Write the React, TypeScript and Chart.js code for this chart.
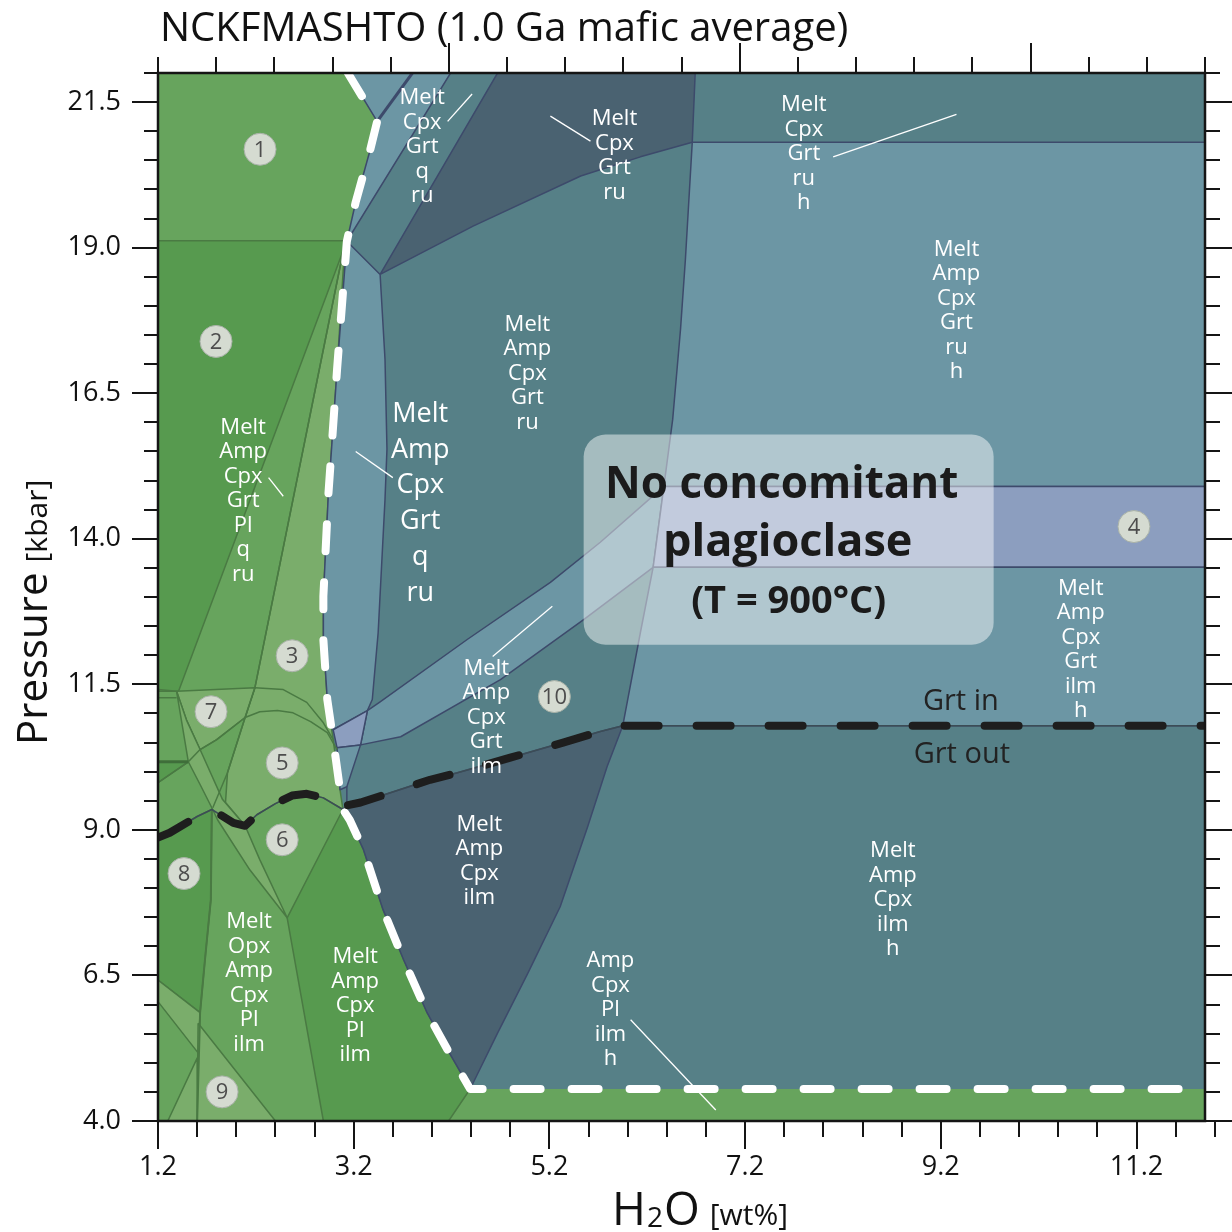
import React, { useEffect, useRef } from 'react';
import { Chart, registerables } from 'chart.js';

Chart.register(...registerables);

type Pt = [number, number];

const FONT = '"Open Sans", "Noto Sans", sans-serif';

// ---------- axes ----------
const H2O_MIN = 1.2;
const H2O_MAX = 11.9;
const P_MIN = 4.0;
const P_MAX = 22.0;
const H2O_LABEL_TICKS = [1.2, 3.2, 5.2, 7.2, 9.2, 11.2];
const H2O_MINOR_STEP = 0.4;
const P_LABEL_TICKS = [4.0, 6.5, 9.0, 11.5, 14.0, 16.5, 19.0, 21.5];
const P_MINOR_STEP = 0.5;
const TOP_MIN = 0;
const TOP_MAX = 18;
const TOP_MAJOR_EVERY = 5;

// ---------- colours ----------
const G1 = '#67a45d';
const G2 = '#579a4f';
const G3 = '#7aad6b';
const B1 = '#6c96a4';
const B2 = '#568087';
const B3 = '#4a6271';
const PU = '#8c9ebf';
const LINE_GREEN = '#4a7a43';
const LINE_BLUE = '#3d4a6b';

// ---------- boundaries [H2O wt%, P kbar] ----------
const SOLIDUS: Pt[] = [
  [3.14, 22.0], [3.44, 21.17], [3.37, 20.69], [3.22, 19.78], [3.13, 19.11], [3.03, 16.91],
  [2.94, 14.73], [2.89, 13.01], [2.89, 12.27], [2.93, 11.24], [2.99, 10.55], [3.06, 9.69],
  [3.09, 9.35], [3.16, 9.17], [3.30, 8.66], [3.50, 7.63], [3.71, 6.77], [3.95, 5.86],
  [4.16, 5.22], [4.39, 4.55], [11.9, 4.55],
];
const GRT_LINE: Pt[] = [
  [1.2, 8.87], [1.32, 8.95], [1.60, 9.23], [1.75, 9.35], [1.97, 9.12], [2.09, 9.07],
  [2.21, 9.26], [2.40, 9.45], [2.57, 9.59], [2.72, 9.62], [2.89, 9.55], [3.09, 9.35],
  [3.13, 9.42], [3.27, 9.47], [3.98, 9.86], [4.26, 9.98], [4.80, 10.24], [5.34, 10.50],
  [5.72, 10.69], [5.95, 10.79], [11.9, 10.79],
];

// ---------- phase fields ----------
const FIELD_ALL: Pt[] = [[1.2, 4.0], [11.9, 4.0], [11.9, 22.0], [1.2, 22.0]];
const FIELD_2: Pt[] = [[1.2, 19.12], [3.13, 19.12], [1.41, 11.38], [1.2, 11.38]];
const FIELD_3_5: Pt[] = [
  [3.11, 19.08], [3.03, 16.91], [2.94, 14.73], [2.89, 13.01], [2.89, 12.27], [2.93, 11.24],
  [2.99, 10.55], [3.06, 9.69], [3.09, 9.35], [2.89, 9.55], [2.72, 9.62], [2.57, 9.59],
  [2.40, 9.45], [2.21, 9.26], [2.09, 9.07], [1.89, 9.47], [1.91, 9.98], [2.09, 10.93], [2.19, 11.44],
];
const FIELD_7: Pt[] = [[1.39, 11.38], [2.19, 11.44], [2.09, 10.93], [1.80, 10.55], [1.63, 10.38], [1.49, 10.89]];
const FIELD_LENS: Pt[] = [
  [1.39, 11.38], [1.49, 10.89], [1.63, 10.38], [1.86, 9.52], [2.09, 9.07], [2.24, 8.49], [2.52, 7.49],
  [2.14, 8.31], [1.81, 9.17], [1.75, 9.38], [1.63, 9.78], [1.51, 10.17],
];
const FIELD_LEFT_TRI: Pt[] = [[1.2, 10.17], [1.51, 10.17], [1.2, 9.81]];
const FIELD_8: Pt[] = [[1.2, 8.87], [1.32, 8.95], [1.60, 9.23], [1.75, 9.35], [1.74, 7.80], [1.68, 6.77], [1.63, 5.86], [1.2, 6.42]];
const FIELD_LOW_STRIP: Pt[] = [[1.2, 6.42], [1.63, 5.86], [1.61, 5.17], [1.2, 6.05]];
const FIELD_9: Pt[] = [[1.61, 5.68], [2.40, 4.0], [1.60, 4.0]];
const FIELD_9B: Pt[] = [[1.30, 4.0], [1.60, 5.08], [1.60, 4.0]];
const FIELD_PL_ILM: Pt[] = [
  [3.09, 9.35], [3.16, 9.17], [3.30, 8.66], [3.50, 7.63], [3.71, 6.77], [3.95, 5.86], [4.16, 5.22],
  [4.39, 4.55], [4.17, 4.0], [2.89, 4.0], [2.52, 7.49],
];
const FIELD_CPX_GRT_Q_RU: Pt[] = [[3.14, 22.0], [4.19, 22.0], [3.13, 19.11], [3.22, 19.78], [3.37, 20.69], [3.44, 21.17]];
const FIELD_CPX_GRT_RU: Pt[] = [[4.67, 22.0], [6.69, 22.0], [6.66, 20.81], [6.13, 20.56], [5.52, 20.23], [4.42, 19.37], [3.47, 18.54]];
const FIELD_AMP_GRT_Q_RU: Pt[] = [
  [3.13, 19.11], [3.47, 18.54], [3.52, 17.08], [3.54, 15.54], [3.52, 14.68], [3.45, 12.39],
  [3.39, 11.24], [3.34, 11.05], [2.99, 10.72], [2.93, 11.24], [2.89, 12.27], [2.89, 13.01],
  [2.94, 14.73], [3.03, 16.91],
];
const FIELD_BAND: Pt[] = [
  [3.34, 11.05], [3.47, 11.20], [4.36, 12.27], [5.21, 13.25], [5.72, 13.94], [6.37, 14.90],
  [6.26, 13.51], [5.55, 12.61], [4.70, 11.58], [3.68, 10.60], [3.27, 10.46],
];
const FIELD_SMALL_PURPLE: Pt[] = [[2.99, 10.72], [3.34, 11.05], [3.27, 10.46], [3.03, 10.41]];
const FIELD_SLIVER: Pt[] = [[3.03, 10.41], [3.27, 10.46], [3.13, 9.74], [3.06, 9.69]];
const FIELD_RU_H: Pt[] = [[6.66, 20.81], [6.59, 18.80], [6.54, 17.60], [6.46, 16.05], [6.37, 14.90], [11.9, 14.90], [11.9, 20.81]];
const FIELD_4: Pt[] = [[6.37, 14.90], [6.26, 13.51], [11.9, 13.51], [11.9, 14.90]];
const FIELD_GRT_ILM_H: Pt[] = [[6.26, 13.51], [6.13, 12.39], [5.95, 10.79], [11.9, 10.79], [11.9, 13.51]];
const FIELD_AMP_CPX_ILM: Pt[] = [
  [3.09, 9.35], [3.13, 9.42], [3.27, 9.47], [3.98, 9.86], [4.26, 9.98], [4.80, 10.24], [5.34, 10.50],
  [5.72, 10.69], [5.95, 10.79], [5.79, 10.09], [5.59, 9.05], [5.31, 7.68], [4.98, 6.54], [4.67, 5.51],
  [4.39, 4.55], [4.16, 5.22], [3.95, 5.86], [3.71, 6.77], [3.50, 7.63], [3.30, 8.66], [3.16, 9.17],
];

// ---------- extra boundary lines ----------
const LINE_B: Pt[] = [[3.11, 19.08], [2.19, 11.44], [2.09, 10.93], [1.91, 9.98], [1.76, 9.38]];
const CURVE_3_BOTTOM: Pt[] = [[2.19, 11.44], [2.48, 11.41], [2.72, 11.19], [2.89, 10.84], [2.99, 10.55]];
const ARC_5_TOP: Pt[] = [
  [3.03, 10.38], [2.93, 10.67], [2.76, 10.86], [2.58, 11.01], [2.42, 11.05], [2.24, 11.03],
  [2.09, 10.93], [1.80, 10.55], [1.63, 10.38], [1.51, 10.17], [1.2, 9.81],
];
const SHORT_LINE_1: Pt[] = [[1.2, 11.41], [1.39, 11.38]];
const SHORT_LINE_2: Pt[] = [[1.2, 11.27], [1.39, 11.27]];
const SHORT_LINE_3: Pt[] = [[1.2, 10.17], [1.51, 10.17]];
const VERTICAL_8: Pt[] = [[1.75, 9.35], [1.74, 7.80], [1.68, 6.77], [1.63, 5.86], [1.60, 4.0]];
const DOUBLE_LINE: Pt[] = [[3.80, 22.0], [3.44, 21.17]];
const LEFT_BLUE_LOW: Pt[] = [[3.13, 9.74], [3.13, 9.42]];

// ---------- annotations ----------
const POINTERS: Pt[][] = [
  [[4.16, 21.17], [4.41, 21.64]],
  [[5.21, 21.26], [5.62, 20.83]],
  [[8.10, 20.56], [9.36, 21.29]],
  [[3.22, 15.50], [3.60, 15.05]],
  [[2.33, 15.05], [2.48, 14.73]],
  [[4.62, 11.98], [5.23, 12.84]],
  [[6.03, 5.74], [6.90, 4.19]],
];
const CIRCLE_X = [2.243, 1.793, 2.571, 11.174, 2.469, 2.469, 1.742, 1.466, 1.855, 5.251];
const CIRCLE_P = [20.69, 17.39, 11.99, 14.21, 10.15, 8.83, 11.03, 8.25, 4.50, 11.29];
const CIRCLE_NUM = ['1', '2', '3', '4', '5', '6', '7', '8', '9', '10'];

const REGION_LABELS = [
  { lines: ['Melt', 'Cpx', 'Grt', 'q', 'ru'], x: 3.90, p: 21.57, size: 22, gap: 24.5 },
  { lines: ['Melt', 'Cpx', 'Grt', 'ru'], x: 5.865, p: 21.21, size: 22, gap: 24.5 },
  { lines: ['Melt', 'Cpx', 'Grt', 'ru', 'h'], x: 7.80, p: 21.45, size: 22, gap: 24.5 },
  { lines: ['Melt', 'Amp', 'Cpx', 'Grt', 'ru', 'h'], x: 9.36, p: 18.97, size: 22, gap: 24.5 },
  { lines: ['Melt', 'Amp', 'Cpx', 'Grt', 'ru'], x: 4.975, p: 17.68, size: 22, gap: 24.5 },
  { lines: ['Melt', 'Amp', 'Cpx', 'Grt', 'q', 'ru'], x: 3.88, p: 16.14, size: 27, gap: 35.8 },
  { lines: ['Melt', 'Amp', 'Cpx', 'Grt', 'Pl', 'q', 'ru'], x: 2.07, p: 15.91, size: 22, gap: 24.5 },
  { lines: ['Melt', 'Amp', 'Cpx', 'Grt', 'ilm', 'h'], x: 10.63, p: 13.15, size: 22, gap: 24.5 },
  { lines: ['Melt', 'Amp', 'Cpx', 'Grt', 'ilm'], x: 4.555, p: 11.77, size: 22, gap: 24.5 },
  { lines: ['Melt', 'Amp', 'Cpx', 'ilm'], x: 4.484, p: 9.09, size: 22, gap: 24.5 },
  { lines: ['Melt', 'Amp', 'Cpx', 'ilm', 'h'], x: 8.71, p: 8.64, size: 22, gap: 24.5 },
  { lines: ['Amp', 'Cpx', 'Pl', 'ilm', 'h'], x: 5.824, p: 6.75, size: 22, gap: 24.5 },
  { lines: ['Melt', 'Opx', 'Amp', 'Cpx', 'Pl', 'ilm'], x: 2.131, p: 7.42, size: 22, gap: 24.5 },
  { lines: ['Melt', 'Amp', 'Cpx', 'Pl', 'ilm'], x: 3.215, p: 6.82, size: 22, gap: 24.5 },
];
const GRT_TEXT = [
  { text: 'Grt in', x: 9.405, p: 11.20 },
  { text: 'Grt out', x: 9.415, p: 10.29 },
];
const BOX_X = [5.55, 9.74];
const BOX_P = [12.18, 15.79];
const BOX_LINES = ['No concomitant', 'plagioclase', '(T = 900°C)'];

const TITLE = 'NCKFMASHTO (1.0 Ga mafic average)';

// ---------- helpers ----------
const toXY = (pts: Pt[]) => pts.map(([x, y]) => ({ x, y }));

function polygon(pts: Pt[], fill: string, border: string | null, bw = 1.5) {
  return {
    type: 'line',
    data: toXY([...pts, pts[0]]),
    fill: 'shape',
    backgroundColor: fill,
    borderColor: border ?? 'rgba(0,0,0,0)',
    borderWidth: border ? bw : 0.01,
    pointRadius: 0,
    tension: 0,
    borderJoinStyle: 'round',
  };
}
function polyline(pts: Pt[], color: string, width: number, dash: number[] = []) {
  return {
    type: 'line',
    data: toXY(pts),
    fill: false,
    borderColor: color,
    borderWidth: width,
    borderDash: dash,
    borderCapStyle: dash.length ? 'round' : 'butt',
    borderJoinStyle: 'round',
    pointRadius: 0,
    tension: 0,
  };
}

function stepTicks(min: number, max: number, step: number) {
  const out: number[] = [];
  const n = Math.round((max - min) / step);
  for (let i = 0; i <= n; i++) out.push(Math.round((min + i * step) * 1000) / 1000);
  return out;
}
const isIn = (v: number, arr: number[]) => arr.some((a) => Math.abs(a - v) < 1e-6);

const axesPlugin = {
  id: 'axesDecor',
  afterDatasetsDraw(chart: any) {
    const { ctx } = chart;
    const xs = chart.scales.x;
    const ys = chart.scales.y;
    ctx.save();
    // translucent box
    const bx0 = xs.getPixelForValue(BOX_X[0]);
    const bx1 = xs.getPixelForValue(BOX_X[1]);
    const by0 = ys.getPixelForValue(BOX_P[1]);
    const by1 = ys.getPixelForValue(BOX_P[0]);
    ctx.fillStyle = 'rgba(255,255,255,0.47)';
    ctx.beginPath();
    ctx.roundRect(bx0, by0, bx1 - bx0, by1 - by0, 22);
    ctx.fill();
    const bcx = (bx0 + bx1) / 2;
    ctx.fillStyle = '#1b1b1b';
    ctx.textAlign = 'center';
    ctx.textBaseline = 'alphabetic';
    ctx.font = `bold 44px ${FONT}`;
    ctx.fillText(BOX_LINES[0], bcx - 7, by0 + 63);
    ctx.font = `bold 45px ${FONT}`;
    ctx.fillText(BOX_LINES[1], bcx - 1, by0 + 121);
    ctx.font = `bold 38px ${FONT}`;
    ctx.fillText(BOX_LINES[2], bcx, by0 + 178);

    // region labels
    ctx.fillStyle = '#ffffff';
    ctx.textBaseline = 'middle';
    for (const L of REGION_LABELS) {
      ctx.font = `${L.size}px ${FONT}`;
      const cx = xs.getPixelForValue(L.x);
      const cy = ys.getPixelForValue(L.p);
      L.lines.forEach((t, i) => ctx.fillText(t, cx, cy + i * L.gap));
    }
    // circle numbers
    ctx.fillStyle = '#4d4d4d';
    ctx.font = `22px ${FONT}`;
    CIRCLE_NUM.forEach((n, i) => {
      ctx.fillText(n, xs.getPixelForValue(CIRCLE_X[i]), ys.getPixelForValue(CIRCLE_P[i]) + 1);
    });
    // Grt in / out
    ctx.fillStyle = '#222';
    ctx.font = `29px ${FONT}`;
    for (const g of GRT_TEXT) ctx.fillText(g.text, xs.getPixelForValue(g.x), ys.getPixelForValue(g.p));
    ctx.restore();
  },
  afterDraw(chart: any) {
    const { ctx, chartArea } = chart;
    const { left, right, top, bottom } = chartArea;
    const xs = chart.scales.x;
    const ys = chart.scales.y;
    const xt = chart.scales.xTop;
    ctx.save();
    ctx.strokeStyle = '#151515';
    ctx.lineWidth = 2;
    const seg = (x1: number, y1: number, x2: number, y2: number) => {
      ctx.beginPath();
      ctx.moveTo(x1, y1);
      ctx.lineTo(x2, y2);
      ctx.stroke();
    };
    for (const v of stepTicks(H2O_MIN, H2O_MAX, H2O_MINOR_STEP)) {
      const X = Math.round(xs.getPixelForValue(v));
      seg(X, bottom, X, bottom + (isIn(v, H2O_LABEL_TICKS) ? 28 : 16));
    }
    for (const v of stepTicks(P_MIN, P_MAX, P_MINOR_STEP)) {
      const Y = Math.round(ys.getPixelForValue(v));
      const major = isIn(v, P_LABEL_TICKS);
      seg(left - (major ? 26 : 14), Y, left, Y);
      seg(right, Y, right + (major ? 27 : 15), Y);
    }
    for (const v of stepTicks(TOP_MIN, TOP_MAX, 1)) {
      const X = Math.round(xt.getPixelForValue(v));
      seg(X, top, X, top - (v % TOP_MAJOR_EVERY === 0 && v > 0 ? 30 : 16));
    }
    ctx.lineWidth = 2.5;
    ctx.strokeRect(left, top, right - left, bottom - top);

    // title
    ctx.fillStyle = '#111';
    ctx.textAlign = 'left';
    ctx.textBaseline = 'alphabetic';
    ctx.font = `40px ${FONT}`;
    ctx.fillText(TITLE, 160, 41);

    // x title: H2O [wt%]
    let x = 612;
    const yb = 1225;
    ctx.font = `46px ${FONT}`;
    ctx.fillText('H', x, yb);
    x += ctx.measureText('H').width + 1;
    ctx.font = `28px ${FONT}`;
    ctx.fillText('2', x, yb + 2);
    x += ctx.measureText('2').width + 1;
    ctx.font = `46px ${FONT}`;
    ctx.fillText('O', x, yb);
    x += ctx.measureText('O').width + 10;
    ctx.font = `30px ${FONT}`;
    ctx.fillText('[wt%]', x, yb);

    // y title: Pressure [kbar]
    ctx.translate(47, 745);
    ctx.rotate(-Math.PI / 2);
    ctx.font = `42px ${FONT}`;
    ctx.fillText('Pressure', 0, 0);
    const w = ctx.measureText('Pressure').width;
    ctx.font = `30px ${FONT}`;
    ctx.fillText('[kbar]', w + 10, 0);
    ctx.restore();
  },
};

export default function App() {
  const ref = useRef<HTMLCanvasElement>(null);
  useEffect(() => {
    const datasets: any[] = [
      polygon(FIELD_ALL, B2, null),
      polygon([[1.2, 22.0], ...SOLIDUS, [11.9, 4.0], [1.2, 4.0]], G1, null),
      polygon(FIELD_2, G2, LINE_GREEN),
      polygon(FIELD_3_5, G3, LINE_GREEN),
      polygon(FIELD_7, G3, LINE_GREEN),
      polygon(FIELD_LENS, G3, LINE_GREEN),
      polygon(FIELD_LEFT_TRI, G2, LINE_GREEN),
      polygon(FIELD_8, G2, LINE_GREEN),
      polygon(FIELD_LOW_STRIP, G3, LINE_GREEN),
      polygon(FIELD_9, G3, LINE_GREEN),
      polygon(FIELD_9B, G3, LINE_GREEN),
      polygon(FIELD_PL_ILM, G2, LINE_GREEN),
      polygon(FIELD_CPX_GRT_Q_RU, B1, LINE_BLUE),
      polygon(FIELD_CPX_GRT_RU, B3, LINE_BLUE),
      polygon(FIELD_AMP_GRT_Q_RU, B1, LINE_BLUE),
      polygon(FIELD_BAND, B1, LINE_BLUE),
      polygon(FIELD_SMALL_PURPLE, PU, LINE_BLUE),
      polygon(FIELD_SLIVER, B1, LINE_BLUE),
      polygon(FIELD_RU_H, B1, LINE_BLUE),
      polygon(FIELD_4, PU, LINE_BLUE),
      polygon(FIELD_GRT_ILM_H, B1, LINE_BLUE),
      polygon(FIELD_AMP_CPX_ILM, B3, LINE_BLUE),
      polyline(LINE_B, LINE_GREEN, 1.5),
      polyline(CURVE_3_BOTTOM, LINE_GREEN, 1.5),
      polyline(ARC_5_TOP, LINE_GREEN, 1.5),
      polyline(SHORT_LINE_1, LINE_GREEN, 1.5),
      polyline(SHORT_LINE_2, LINE_GREEN, 1.5),
      polyline(SHORT_LINE_3, '#3f6e3a', 3),
      polyline(VERTICAL_8, LINE_GREEN, 2),
      polyline(DOUBLE_LINE, LINE_BLUE, 3),
      polyline(LEFT_BLUE_LOW, LINE_BLUE, 1.5),
      polyline(GRT_LINE, '#3c4d56', 1.5),
      ...POINTERS.map((p) => polyline(p, '#ffffff', 1.3)),
      polyline(SOLIDUS, '#ffffff', 8, [27, 31]),
      polyline(GRT_LINE, '#1e1e1e', 8, [34, 38]),
      {
        type: 'line',
        data: CIRCLE_X.map((x, i) => ({ x, y: CIRCLE_P[i] })),
        showLine: false,
        pointRadius: 16,
        pointBackgroundColor: '#d5dbd1',
        pointBorderColor: '#a9b2a8',
        pointBorderWidth: 1,
      },
    ];
    datasets.forEach((d, i) => (d.order = -i));

    const chart = new Chart(ref.current as HTMLCanvasElement, {
      type: 'line',
      data: { datasets },
      options: {
        responsive: false,
        animation: false,
        events: [],
        layout: { padding: 0 },
        plugins: { legend: { display: false }, tooltip: { enabled: false }, title: { display: false } },
        scales: {
          x: {
            type: 'linear',
            position: 'bottom',
            min: H2O_MIN,
            max: H2O_MAX,
            afterBuildTicks: (s: any) => {
              s.ticks = H2O_LABEL_TICKS.map((v) => ({ value: v }));
            },
            afterFit: (s: any) => {
              s.height = 111;
            },
            grid: { display: false, drawTicks: false },
            border: { display: false },
            ticks: {
              autoSkip: false,
              maxRotation: 0,
              padding: 30,
              color: '#111',
              font: { family: FONT, size: 27 },
              callback: (v: any) => Number(v).toFixed(1),
            },
          },
          y: {
            type: 'linear',
            position: 'left',
            min: P_MIN,
            max: P_MAX,
            afterBuildTicks: (s: any) => {
              s.ticks = P_LABEL_TICKS.map((v) => ({ value: v }));
            },
            afterFit: (s: any) => {
              s.width = 158;
            },
            grid: { display: false, drawTicks: false },
            border: { display: false },
            ticks: {
              autoSkip: false,
              padding: 37,
              color: '#111',
              font: { family: FONT, size: 27 },
              callback: (v: any) => Number(v).toFixed(1),
            },
          },
          xTop: {
            type: 'linear',
            position: 'top',
            min: TOP_MIN,
            max: TOP_MAX,
            afterFit: (s: any) => {
              s.height = 73;
            },
            grid: { display: false, drawTicks: false },
            border: { display: false },
            ticks: { display: false },
          },
          yRight: {
            type: 'linear',
            position: 'right',
            min: P_MIN,
            max: P_MAX,
            afterFit: (s: any) => {
              s.width = 27;
            },
            grid: { display: false, drawTicks: false },
            border: { display: false },
            ticks: { display: false },
          },
        },
      } as any,
      plugins: [axesPlugin],
    } as any);
    return () => chart.destroy();
  }, []);

  return (
    <div style={{ position: 'absolute', left: 0, top: 0, width: 1232, height: 1232, background: '#ffffff' }}>
      <canvas ref={ref} width={1232} height={1232} style={{ width: 1232, height: 1232, display: 'block' }} />
    </div>
  );
}
